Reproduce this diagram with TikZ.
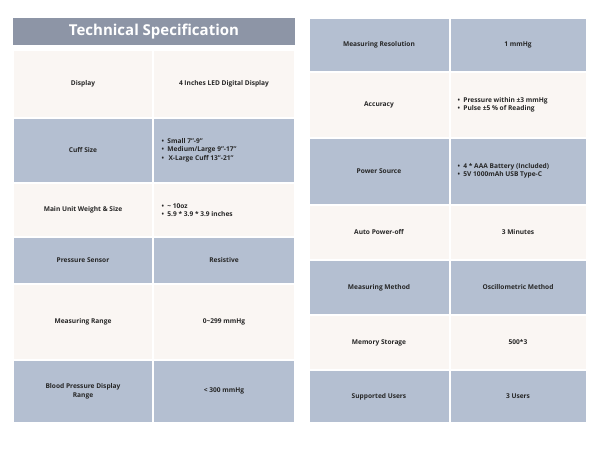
\documentclass[tikz,border=0pt]{standalone}
\usepackage{fontspec}
\setmainfont{Open Sans}
\definecolor{bl}{HTML}{B4BFD1}
\definecolor{cr}{HTML}{FAF6F3}
\definecolor{tt}{HTML}{8D95A6}
\begin{document}
\begin{tikzpicture}[x=1pt,y=-1pt,
 cell/.style={draw=white,line width=1.5pt},
 lab/.style={font=\fontsize{6.6}{8.5}\selectfont\bfseries,align=center,text=black!85},
 bul/.style={font=\fontsize{6.6}{8.5}\selectfont\bfseries,align=left,anchor=west,text=black!85}]
\fill[white] (0,0) rectangle (600,450);
\useasboundingbox (0,0) rectangle (600,450);
\fill[tt] (13,18) rectangle (295,45);
\node[font=\fontsize{15}{18}\selectfont\bfseries,text=white] (title) at (154,32) {Technical Specification};
% left
\newcommand\lrow[5]{\fill[#3,cell] (13,#1) rectangle (153,#2); \fill[#3,cell] (153,#1) rectangle (295,#2);
 \node[lab] (#4) at (83,{(#1+#2)/2}) {#5};}
\lrow{50}{118}{cr}{l1}{Display}
\node[lab] (v1) at (224,84) {4 Inches LED Digital Display};
\lrow{118}{183}{bl}{l2}{Cuff Size}
\node[bul] (v2) at (158,150) {•\ \ Small 7"-9"\\•\ \ Medium/Large 9"-17"\\•\ \ \,X-Large Cuff 13"-21"};
\lrow{183}{237}{cr}{l3}{Main Unit Weight \& Size}
\node[bul] (v3) at (158,210) {•\ \ \textasciitilde\ 10oz\\•\ \ 5.9 * 3.9 * 3.9 inches};
\lrow{237}{284}{bl}{l4}{Pressure Sensor}
\node[lab] (v4) at (224,260) {Resistive};
\lrow{284}{360}{cr}{l5}{Measuring Range}
\node[lab] (v5) at (224,322) {0\textasciitilde299 mmHg};
\lrow{360}{423}{bl}{l6}{Blood Pressure Display\\Range}
\node[lab] (v6) at (224,391) {< 300 mmHg};
% right
\newcommand\rrow[5]{\fill[#3,cell] (309,#1) rectangle (450,#2); \fill[#3,cell] (450,#1) rectangle (587,#2);
 \node[lab] (#4) at (379,{(#1+#2)/2}) {#5};}
\rrow{18}{72}{bl}{r1}{Measuring Resolution}
\node[lab] (w1) at (518,45) {1 mmHg};
\rrow{72}{138}{cr}{r2}{Accuracy}
\node[bul] (w2) at (454,105) {•\ \ Pressure within ±3 mmHg\\•\ \ Pulse ±5 \% of Reading};
\rrow{138}{205}{bl}{r3}{Power Source}
\node[bul] (w3) at (454,171) {•\ \ 4 * AAA Battery (Included)\\•\ \ 5V 1000mAh USB Type-C};
\rrow{205}{260}{cr}{r4}{Auto Power-off}
\node[lab] (w4) at (518,232) {3 Minutes};
\rrow{260}{315}{bl}{r5}{Measuring Method}
\node[lab] (w5) at (518,287) {Oscillometric Method};
\rrow{315}{370}{cr}{r6}{Memory Storage}
\node[lab] (w6) at (518,342) {500*3};
\rrow{370}{423}{bl}{r7}{Supported Users}
\node[lab] (w7) at (518,396) {3 Users};
\end{tikzpicture}
\end{document}
